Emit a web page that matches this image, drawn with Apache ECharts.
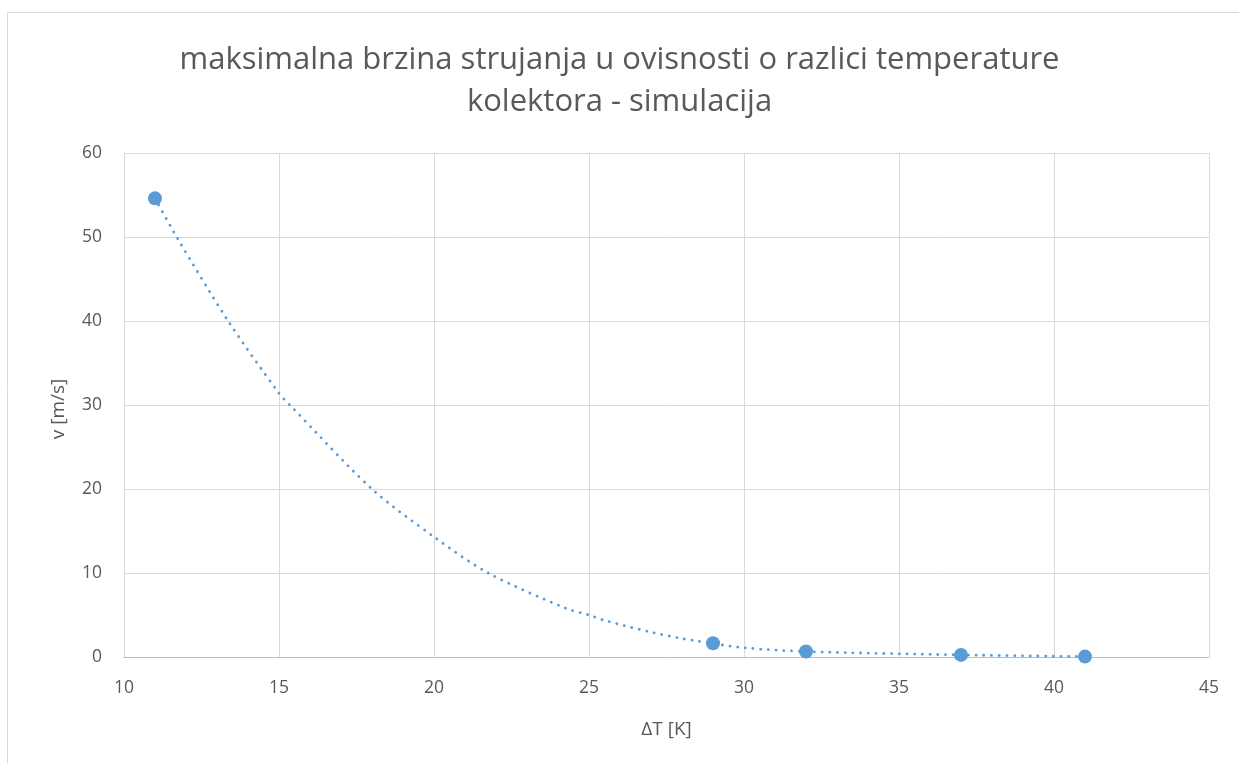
<!DOCTYPE html>
<html>
<head>
<meta charset="utf-8">
<title>maksimalna brzina strujanja</title>
<script src="https://cdn.jsdelivr.net/npm/echarts@6/dist/echarts.min.js"></script>
<style>
  html, body { margin: 0; padding: 0; background: #ffffff; }
  #chart { width: 1239px; height: 763px; }
</style>
</head>
<body>
<div id="chart"></div>
<script>
// Simulated maximum flow speed vs. collector temperature difference
const deltaT = [11, 29, 32, 37, 41];
const speed = [54.6, 1.63, 0.65, 0.25, 0.05];

// Trend curve through the measurements (values along the dotted line)
const trendX = [11, 11.7, 13.36, 15, 15.35, 18, 20, 21.75, 24.25, 25, 25.46, 27, 28, 28.5, 29, 30, 32, 37, 41];
const trendY = [54.6, 50, 40, 31.4, 30, 20, 14.3, 10, 5.8, 5.0, 4.4, 2.95, 2.2, 1.9, 1.6, 1.1, 0.65, 0.25, 0.05];

const xTicks = [10, 15, 20, 25, 30, 35, 40, 45];
const yTicks = [0, 10, 20, 30, 40, 50, 60];

const titleLines = ['maksimalna brzina strujanja u ovisnosti o razlici temperature', 'kolektora - simulacija'];
const xName = 'ΔT [K]';
const yName = 'v [m/s]';

const blue = '#5b9bd5';
const textGrey = '#595959';
const font = '"Open Sans", "Noto Sans", sans-serif';

const chart = echarts.init(document.getElementById('chart'), null, { renderer: 'canvas' });

chart.setOption({
  backgroundColor: '#ffffff',
  animation: false,
  title: {
    text: titleLines.join('\n'),
    left: 'center',
    top: 34,
    textStyle: {
      fontFamily: font,
      fontSize: 31,
      fontWeight: 400,
      color: textGrey,
      lineHeight: 42
    }
  },
  graphic: [{
    type: 'rect',
    shape: { x: 7.5, y: 12.5, width: 1260, height: 800 },
    style: { fill: null, stroke: '#d9d9d9', lineWidth: 1 },
    silent: true,
    z: -1
  }],
  grid: { left: 124, right: 30, top: 153, bottom: 106 },
  xAxis: {
    type: 'value',
    min: xTicks[0],
    max: xTicks[xTicks.length - 1],
    interval: 5,
    name: xName,
    nameLocation: 'middle',
    nameGap: 63,
    nameTextStyle: { fontFamily: font, fontSize: 19, color: textGrey },
    axisLine: { show: true, onZero: false, lineStyle: { color: '#bfbfbf', width: 1 } },
    axisTick: { show: false },
    axisLabel: { fontFamily: font, fontSize: 17.5, color: textGrey, margin: 22 },
    splitLine: { show: true, lineStyle: { color: '#d9d9d9', width: 1 } }
  },
  yAxis: {
    type: 'value',
    min: yTicks[0],
    max: yTicks[yTicks.length - 1],
    interval: 10,
    name: yName,
    nameLocation: 'middle',
    nameGap: 56,
    nameTextStyle: { fontFamily: font, fontSize: 19, color: textGrey, padding: [0, 8, 0, 0] },
    axisLine: { show: true, lineStyle: { color: '#d9d9d9', width: 1 } },
    axisTick: { show: false },
    axisLabel: { fontFamily: font, fontSize: 17.5, color: textGrey, margin: 22 },
    splitLine: { show: true, lineStyle: { color: '#d9d9d9', width: 1 } }
  },
  series: [
    {
      name: 'trend',
      type: 'line',
      data: trendX.map((x, i) => [x, trendY[i]]),
      smooth: 0.3,
      showSymbol: false,
      symbol: 'none',
      lineStyle: { color: blue, width: 2.8, type: [0.1, 7.6], cap: 'round' },
      z: 2
    },
    {
      name: 'v',
      type: 'scatter',
      data: deltaT.map((x, i) => [x, speed[i]]),
      symbol: 'circle',
      symbolSize: 14,
      itemStyle: { color: blue, opacity: 1 },
      z: 3
    }
  ]
});
</script>
</body>
</html>
